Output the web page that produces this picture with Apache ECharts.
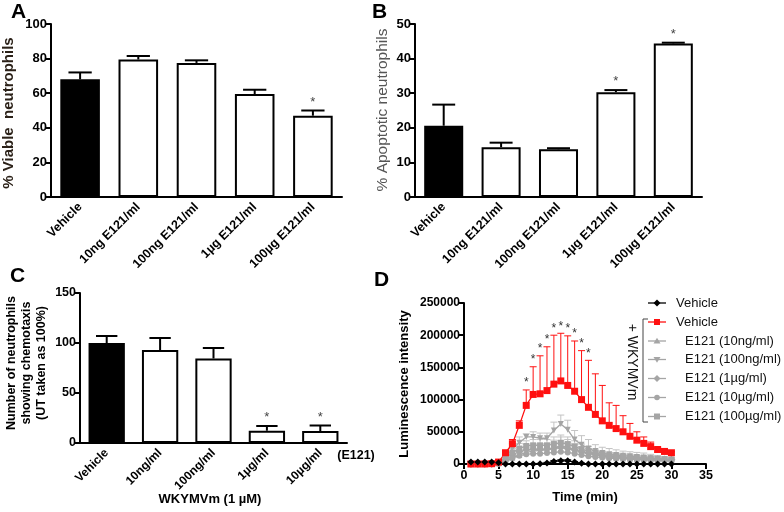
<!DOCTYPE html>
<html><head><meta charset="utf-8">
<script src="https://cdn.jsdelivr.net/npm/echarts@6/dist/echarts.min.js"></script>
<style>html,body{margin:0;padding:0;background:#fff}#c{width:784px;height:512px}</style>
</head><body><div id="c"></div>
<script>
// ---- Panel A ----
const catsA = ['Vehicle','10ng E121/ml','100ng E121/ml','1µg E121/ml','100µg E121/ml'];
const viable = [68, 79.5, 77.5, 59.5, 47];
const viableErr = [72, 81.5, 79, 62, 50];
const viableSig = [0,0,0,0,1];
// ---- Panel B ----
const catsB = ['Vehicle','10ng E121/ml','100ng E121/ml','1µg E121/ml','100µg E121/ml'];
const apopt = [20.6, 14.4, 13.8, 30.3, 44.4];
const apoptErr = [26.7, 15.7, 14.1, 30.9, 44.6];
const apoptSig = [0,0,0,1,1];
// ---- Panel C ----
const catsC = ['Vehicle','10ng/ml','100ng/ml','1µg/ml','10µg/ml'];
const chemo = [100, 93, 84.5, 12.3, 12];
const chemoErr = [107, 105, 95, 17, 17.5];
const chemoSig = [0,0,0,1,1];
// ---- Panel D ----
const time = [1,2,3,4,5,6,7,8,9,10,11,12,13,14,15,16,17,18,19,20,21,22,23,24,25,26,27,28,29,30];
const vehD = [3000,3000,3000,3000,2000,0,0,0,0,0,500,1500,4000,5000,5000,3000,1000,0,0,0,0,0,0,0,0,0,0,0,0,0];
const vehErr = [3500,3500,3500,3500,2500,500,500,500,500,500,1000,2500,5500,6500,6500,4000,1500,500,500,500,500,500,500,500,500,500,500,500,500,500];
const redD = [0,0,0,500,3000,17500,31500,60000,91000,108000,109000,114000,124000,129000,122000,113000,100000,88000,77000,67000,60000,55000,50000,43000,37000,32000,27000,22500,19500,17500];
const redErr = [0,0,0,1000,6000,20000,38000,67000,115000,151000,168000,182000,200000,203000,199000,191000,176000,161000,140000,122000,95000,91000,75000,63000,50000,42000,34000,26000,22000,19000];
const redSig = [0,0,0,0,0,0,0,0,1,1,1,1,1,1,1,1,1,1,0,0,0,0,0,0,0,0,0,0,0,0];
const upD = [0,0,0,0,1000,5000,10000,14000,18000,20000,21000,22000,25000,28000,26000,22000,18000,16000,14000,12000,11000,10000,9000,8500,8000,7500,7000,6500,6000,5500];
const upErr = [0,0,0,0,2000,8000,15000,20000,26000,29000,30000,32000,37000,42000,38000,32000,27000,24000,21000,18000,17000,15000,14000,13500,13000,11500,11000,10500,10000,8500];
const downD = [0,0,0,0,2000,9000,24000,33000,42000,42000,40000,40000,52000,62000,53000,38000,30000,24000,20000,17000,15000,14000,13000,12000,11000,10000,9000,8000,7000,6000];
const downErr = [0,0,0,0,3000,14000,32000,42000,47000,50000,48000,48000,65000,76000,68000,52000,44000,38000,30000,26000,24000,22000,20000,19000,18000,17000,15000,13000,11000,9000];
const diaD = [0,0,0,0,1000,6000,14000,19000,22000,23000,23000,23000,24000,26000,24000,22000,19000,17000,15000,13000,12000,11000,10000,9500,9000,8500,8000,7500,7000,6500];
const diaErr = [0,0,0,0,2000,9000,20000,26000,30000,31000,31000,31000,33000,36000,33000,30000,27000,24000,21000,19000,17000,16000,15000,14000,13000,12000,11500,11000,10000,9500];
const circD = [0,0,0,0,500,4000,9000,13000,15000,16000,16000,17000,18000,19000,18000,16000,14000,12000,11000,10000,9000,8500,8000,7500,7000,6500,6000,5500,5000,4500];
const circErr = [0,0,0,0,1500,7000,14000,19000,21000,22000,22000,23000,25000,27000,25000,22000,20000,18000,16000,15000,14000,13000,12000,11000,10500,10000,9500,9000,8000,7500];
const sqD = [0,0,0,0,1500,8000,18000,24000,28000,29000,29000,29000,31000,33000,31000,27000,23000,20000,17000,15000,13000,12000,11000,10000,9500,9000,8500,8000,7500,7000];
const sqErr = [0,0,0,0,3000,12000,24000,32000,36000,38000,38000,38000,42000,45000,42000,36000,31000,27000,23000,20000,18000,17000,16000,15000,14000,13000,12000,11000,10000,9500];
const yTicksA = [0, 100, 20];
const yTicksB = [0, 50, 10];
const yTicksC = [0, 150, 50];
const yTicksD = [0, 250000, 50000];
const xTicksD = [0, 35, 5];

const FONT = 'Liberation Sans, Arial, sans-serif';
const chart = echarts.init(document.getElementById('c'));

function catAxis(gi, cats, fs) {
  return { type:'category', gridIndex:gi, data:cats,
    axisLine:{lineStyle:{color:'#000', width:2}}, axisTick:{show:false},
    axisLabel:{interval:0, rotate:45, margin:8, color:'#000', fontWeight:'bold', fontSize:fs, fontFamily:FONT} };
}
function valAxis(gi, t, fs, extra) {
  return Object.assign({ type:'value', gridIndex:gi, min:t[0], max:t[1], interval:t[2],
    axisLine:{show:true, lineStyle:{color:'#000', width:2}},
    axisTick:{show:true, length:5, lineStyle:{width:2}}, splitLine:{show:false},
    axisLabel:{color:'#000', fontWeight:'bold', fontSize:fs, fontFamily:FONT, margin:4,
      formatter:(v)=>String(v)} }, extra||{});
}
function barSeries(gi, vals) {
  return { type:'bar', xAxisIndex:gi, yAxisIndex:gi, barWidth:'68%', z:3,
    data: vals.map((v,i)=>({value:v, itemStyle:{color: i===0 ? '#000' : '#fff'}})),
    itemStyle:{borderColor:'#000', borderWidth:2} };
}
function barErrSeries(gi, vals, errs, sig) {
  return { type:'custom', xAxisIndex:gi, yAxisIndex:gi, z:2,
    data: vals.map((v,i)=>[i, v, errs[i], sig[i]]),
    renderItem:(params, api)=>{
      const x = api.value(0);
      const p0 = api.coord([x, api.value(1)]);
      const p1 = api.coord([x, api.value(2)]);
      const w = api.size([1,0])[0]*0.2;
      const ch = [
        {type:'line', shape:{x1:p0[0], y1:p0[1], x2:p1[0], y2:p1[1]}, style:{stroke:'#000', lineWidth:2}},
        {type:'line', shape:{x1:p1[0]-w, y1:p1[1], x2:p1[0]+w, y2:p1[1]}, style:{stroke:'#000', lineWidth:2}}
      ];
      if (api.value(3)) ch.push({type:'text', x:p1[0], y:p1[1]-2,
        style:{text:'*', fill:'#444', fontSize:13, fontFamily:FONT, align:'center', verticalAlign:'bottom'}});
      return {type:'group', children:ch};
    }};
}
function lineSeries(name, vals, color, symbol, size) {
  return { name, type:'line', xAxisIndex:3, yAxisIndex:3, z:4,
    data: time.map((t,i)=>[t, vals[i]]), symbol, symbolSize:size, showSymbol:true,
    itemStyle:{color}, lineStyle:{color, width:1.3} };
}
function lineErrSeries(vals, errs, color, sig) {
  return { type:'custom', xAxisIndex:3, yAxisIndex:3, z:3,
    data: time.map((t,i)=>[t, vals[i], errs[i], sig ? sig[i] : 0]),
    renderItem:(params, api)=>{
      const p0 = api.coord([api.value(0), api.value(1)]);
      const p1 = api.coord([api.value(0), api.value(2)]);
      const w = 3.5;
      const ch = [
        {type:'line', shape:{x1:p0[0], y1:p0[1], x2:p1[0], y2:p1[1]}, style:{stroke:color, lineWidth:1}},
        {type:'line', shape:{x1:p1[0]-w, y1:p1[1], x2:p1[0]+w, y2:p1[1]}, style:{stroke:color, lineWidth:1}}
      ];
      if (api.value(3)) ch.push({type:'text', x:p1[0], y:p1[1]-1,
        style:{text:'*', fill:'#333', fontSize:12, fontFamily:FONT, align:'center', verticalAlign:'bottom'}});
      return {type:'group', children:ch};
    }};
}

const GREY = '#a5a5a5', GREYE = '#c4c4c4', RED = '#ff1010';

function T(text, x, y, o) {
  return Object.assign({type:'text', x, y, style:Object.assign({text, fontFamily:FONT, fill:'#000'}, o && o.style)}, o && o.el);
}
function legendRow(y, text, color, symbol, tx) {
  const sym = {
    circle:{type:'circle', shape:{cx:657, cy:y, r:2.8}},
    square:{type:'rect', shape:{x:654, y:y-3, width:6, height:6}},
    diamond:{type:'polygon', shape:{points:[[657,y-3.5],[660.5,y],[657,y+3.5],[653.5,y]]}},
    triangle:{type:'polygon', shape:{points:[[657,y-3.2],[660.5,y+2.5],[653.5,y+2.5]]}},
    tdown:{type:'polygon', shape:{points:[[657,y+3.2],[660.5,y-2.5],[653.5,y-2.5]]}}
  }[symbol];
  sym.style = {fill:color};
  return [
    {type:'line', shape:{x1:648, y1:y, x2:666, y2:y}, style:{stroke:color, lineWidth:1.3}},
    sym,
    T(text, tx, y, {style:{fontSize:13, fill:'#111', verticalAlign:'middle', align:'left'}})
  ];
}

const graphics = [
  T('A', 11, 2, {style:{fontSize:21, fontWeight:'bold'}}),
  T('B', 372, 2, {style:{fontSize:21, fontWeight:'bold'}}),
  T('C', 10, 266, {style:{fontSize:21, fontWeight:'bold'}}),
  T('D', 374, 270, {style:{fontSize:21, fontWeight:'bold'}}),
  T('% Viable  neutrophils', 0, 0, {el:{x:9, y:113, rotation:Math.PI/2},
     style:{fontSize:15, fontWeight:'bold', fill:'#2b2118', align:'center', verticalAlign:'middle'}}),
  T('% Apoptotic neutrophils', 0, 0, {el:{x:383, y:110, rotation:Math.PI/2},
     style:{fontSize:15.5, fill:'#555', align:'center', verticalAlign:'middle'}}),
  T('Number of neutrophils\nshowing chemotaxis\n(UT taken as 100%)', 0, 0, {el:{x:27, y:363, rotation:Math.PI/2},
     style:{fontSize:12.5, fontWeight:'bold', fill:'#000', align:'center', verticalAlign:'middle', lineHeight:15}}),
  T('WKYMVm (1 µM)', 210, 499, {style:{fontSize:13, fontWeight:'bold', align:'center', verticalAlign:'middle'}}),
  T('(E121)', 356, 456, {style:{fontSize:12.5, fontWeight:'bold', align:'center', verticalAlign:'middle'}}),
  T('Time (min)', 585, 497, {style:{fontSize:13, fontWeight:'bold', align:'center', verticalAlign:'middle'}}),
  T('Luminescence intensity', 0, 0, {el:{x:404, y:384, rotation:Math.PI/2},
     style:{fontSize:13, fontWeight:'bold', align:'center', verticalAlign:'middle'}}),
  {type:'polyline', shape:{points:[[648,319],[643,319],[643,422],[648,422]]}, style:{stroke:'#444', lineWidth:1, fill:null}},
  T('+ WKYMVm', 0, 0, {el:{x:632, y:362, rotation:-Math.PI/2},
     style:{fontSize:14, fill:'#111', align:'center', verticalAlign:'middle'}}),
  ...legendRow(303, 'Vehicle', '#000', 'diamond', 676),
  ...legendRow(322, 'Vehicle', RED, 'square', 676),
  ...legendRow(341, 'E121 (10ng/ml)', GREY, 'triangle', 685),
  ...legendRow(359.5, 'E121 (100ng/ml)', GREY, 'tdown', 685),
  ...legendRow(378.5, 'E121 (1µg/ml)', GREY, 'diamond', 685),
  ...legendRow(397.5, 'E121 (10µg/ml)', GREY, 'circle', 685),
  ...legendRow(416.5, 'E121 (100µg/ml)', GREY, 'square', 685)
];

chart.setOption({
  animation:false,
  backgroundColor:'#fff',
  textStyle:{fontFamily:FONT},
  grid:[
    {left:51, top:24, width:291, height:173},
    {left:415, top:24, width:287, height:173},
    {left:80, top:293, width:267, height:150},
    {left:464, top:303, width:242, height:161}
  ],
  xAxis:[
    catAxis(0, catsA, 12.5), catAxis(1, catsB, 12.5), catAxis(2, catsC, 12),
    valAxis(3, xTicksD, 12.5, {axisLabel:{color:'#000', fontWeight:'bold', fontSize:12.5, fontFamily:FONT, margin:5}})
  ],
  yAxis:[
    valAxis(0, yTicksA, 13), valAxis(1, yTicksB, 13), valAxis(2, yTicksC, 12.5),
    valAxis(3, yTicksD, 12)
  ],
  series:[
    barErrSeries(0, viable, viableErr, viableSig), barSeries(0, viable),
    barErrSeries(1, apopt, apoptErr, apoptSig), barSeries(1, apopt),
    barErrSeries(2, chemo, chemoErr, chemoSig), barSeries(2, chemo),
    lineErrSeries(upD, upErr, GREYE), lineErrSeries(downD, downErr, GREYE),
    lineErrSeries(diaD, diaErr, GREYE), lineErrSeries(circD, circErr, GREYE),
    lineErrSeries(sqD, sqErr, GREYE),
    lineSeries('E121 (10ng/ml)', upD, GREY, 'triangle', 6),
    lineSeries('E121 (100ng/ml)', downD, GREY, 'path://M0,0 L10,0 L5,9 Z', 6),
    lineSeries('E121 (1µg/ml)', diaD, GREY, 'diamond', 8),
    lineSeries('E121 (10µg/ml)', circD, GREY, 'circle', 6),
    lineSeries('E121 (100µg/ml)', sqD, GREY, 'rect', 6),
    lineErrSeries(redD, redErr, RED, redSig),
    lineSeries('Vehicle + WKYMVm', redD, RED, 'rect', 7),
    lineErrSeries(vehD, vehErr, '#000'),
    lineSeries('Vehicle', vehD, '#000', 'diamond', 7)
  ],
  graphic: graphics
});
</script></body></html>
